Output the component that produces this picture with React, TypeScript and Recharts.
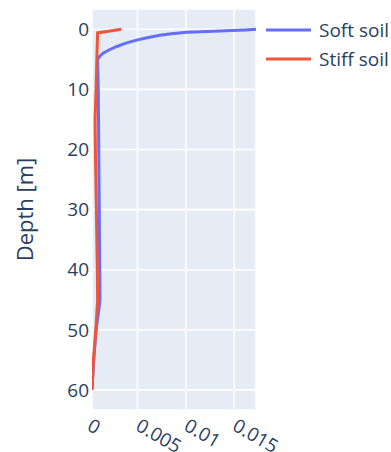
import React from "react"
import { ScatterChart, Scatter, XAxis, YAxis, CartesianGrid, Legend } from "recharts"

// depth [m] and response value
const softDepth = [0, 0.1, 0.2, 0.35, 0.5, 0.75, 1, 1.4, 1.8, 2.3, 2.9, 3.4, 4, 4.5, 5, 10, 20, 30, 40, 45, 48, 50, 55, 60]
const softValue = [0.01725, 0.0162, 0.0148, 0.0122, 0.0101, 0.0085, 0.0073, 0.006, 0.0049, 0.0038, 0.0028, 0.0021, 0.0014, 0.0011, 0.00088, 0.00095, 0.001, 0.00105, 0.0011, 0.00113, 0.0009, 0.00072, 0.00048, 0.0003]

const stiffDepth = [0, 0.6, 5, 10, 15, 20, 25, 30, 35, 40, 45, 50, 55, 60]
const stiffValue = [0.00334, 0.00088, 0.0008, 0.00072, 0.00062, 0.00065, 0.0007, 0.00075, 0.0008, 0.00085, 0.00088, 0.0007, 0.00045, 0.0003]

const xTicks = [0, 0.005, 0.01, 0.015]
const yTicks = [0, 10, 20, 30, 40, 50, 60]

const soft = softDepth.map((d, i) => ({ depth: d, x: softValue[i] }))
const stiff = stiffDepth.map((d, i) => ({ depth: d, x: stiffValue[i] }))

const FONT = '"Open Sans", verdana, arial, sans-serif'
const TEXT = "#2a3f5f"

const XTick = (props: any) => {
  const { x, y, payload } = props
  return (
    <g transform={`translate(${x + 0.5},${y + 13.5}) rotate(30)`}>
      <text x={0} y={0} textAnchor="start" dominantBaseline="central" fill={TEXT} fontSize={19} fontFamily={FONT}>
        {String(payload.value)}
      </text>
    </g>
  )
}

const LegendBox = (props: any) => {
  const { payload } = props
  return (
    <div style={{ fontFamily: FONT, fontSize: 19, color: TEXT, whiteSpace: "nowrap" }}>
      {(payload || []).map((p: any) => (
        <div key={p.value} style={{ display: "flex", alignItems: "center", height: 28.6 }}>
          <svg width={52} height={8}>
            <line x1={4} x2={49} y1={4} y2={4} stroke={p.color} strokeWidth={3} />
          </svg>
          <span style={{ marginLeft: 5 }}>{p.value}</span>
        </div>
      ))}
    </div>
  )
}

export default function App() {
  return (
    <div style={{ position: "absolute", left: 0, top: 0, width: 391, height: 452, overflow: "hidden", background: "#fff" }}>
      <ScatterChart width={391} height={452} margin={{ top: 9, right: 135, bottom: 0, left: 32 }}>
        <CartesianGrid fill="#E5ECF6" stroke="#fff" strokeWidth={1.6} />
        <XAxis
          type="number"
          dataKey="x"
          domain={[0.0003, 0.01725]}
          ticks={xTicks}
          allowDataOverflow
          axisLine={false}
          tickLine={false}
          tickSize={0}
          tickMargin={0}
          height={42}
          interval={0}
          tick={<XTick />}
        />
        <YAxis
          type="number"
          dataKey="depth"
          reversed
          domain={[-3.38, 63.35]}
          ticks={yTicks}
          allowDataOverflow
          axisLine={false}
          tickLine={false}
          tickSize={0}
          tickMargin={3}
          width={60}
          interval={0}
          tick={{ fill: TEXT, fontSize: 19, fontFamily: FONT }}
          label={{
            content: () => (
              <text x={24} y={209.5} transform="rotate(-90 24 209.5)" textAnchor="middle" dominantBaseline="central" fill={TEXT} fontSize={22} fontFamily={FONT}>
                Depth [m]
              </text>
            ),
          }}
        />
        <Legend
          layout="horizontal"
          align="center"
          verticalAlign="middle"
          wrapperStyle={{ left: 262, top: 16, width: 160 }}
          content={<LegendBox />}
        />
        <Scatter
          name="Soft soil"
          data={soft}
          fill="#636efa"
          line={{ stroke: "#636efa", strokeWidth: 3 }}
          lineType="joint"
          shape={() => <g />}
          isAnimationActive={false}
        />
        <Scatter
          name="Stiff soil"
          data={stiff}
          fill="#EF553B"
          line={{ stroke: "#EF553B", strokeWidth: 3 }}
          lineType="joint"
          shape={() => <g />}
          isAnimationActive={false}
        />
      </ScatterChart>
    </div>
  )
}
